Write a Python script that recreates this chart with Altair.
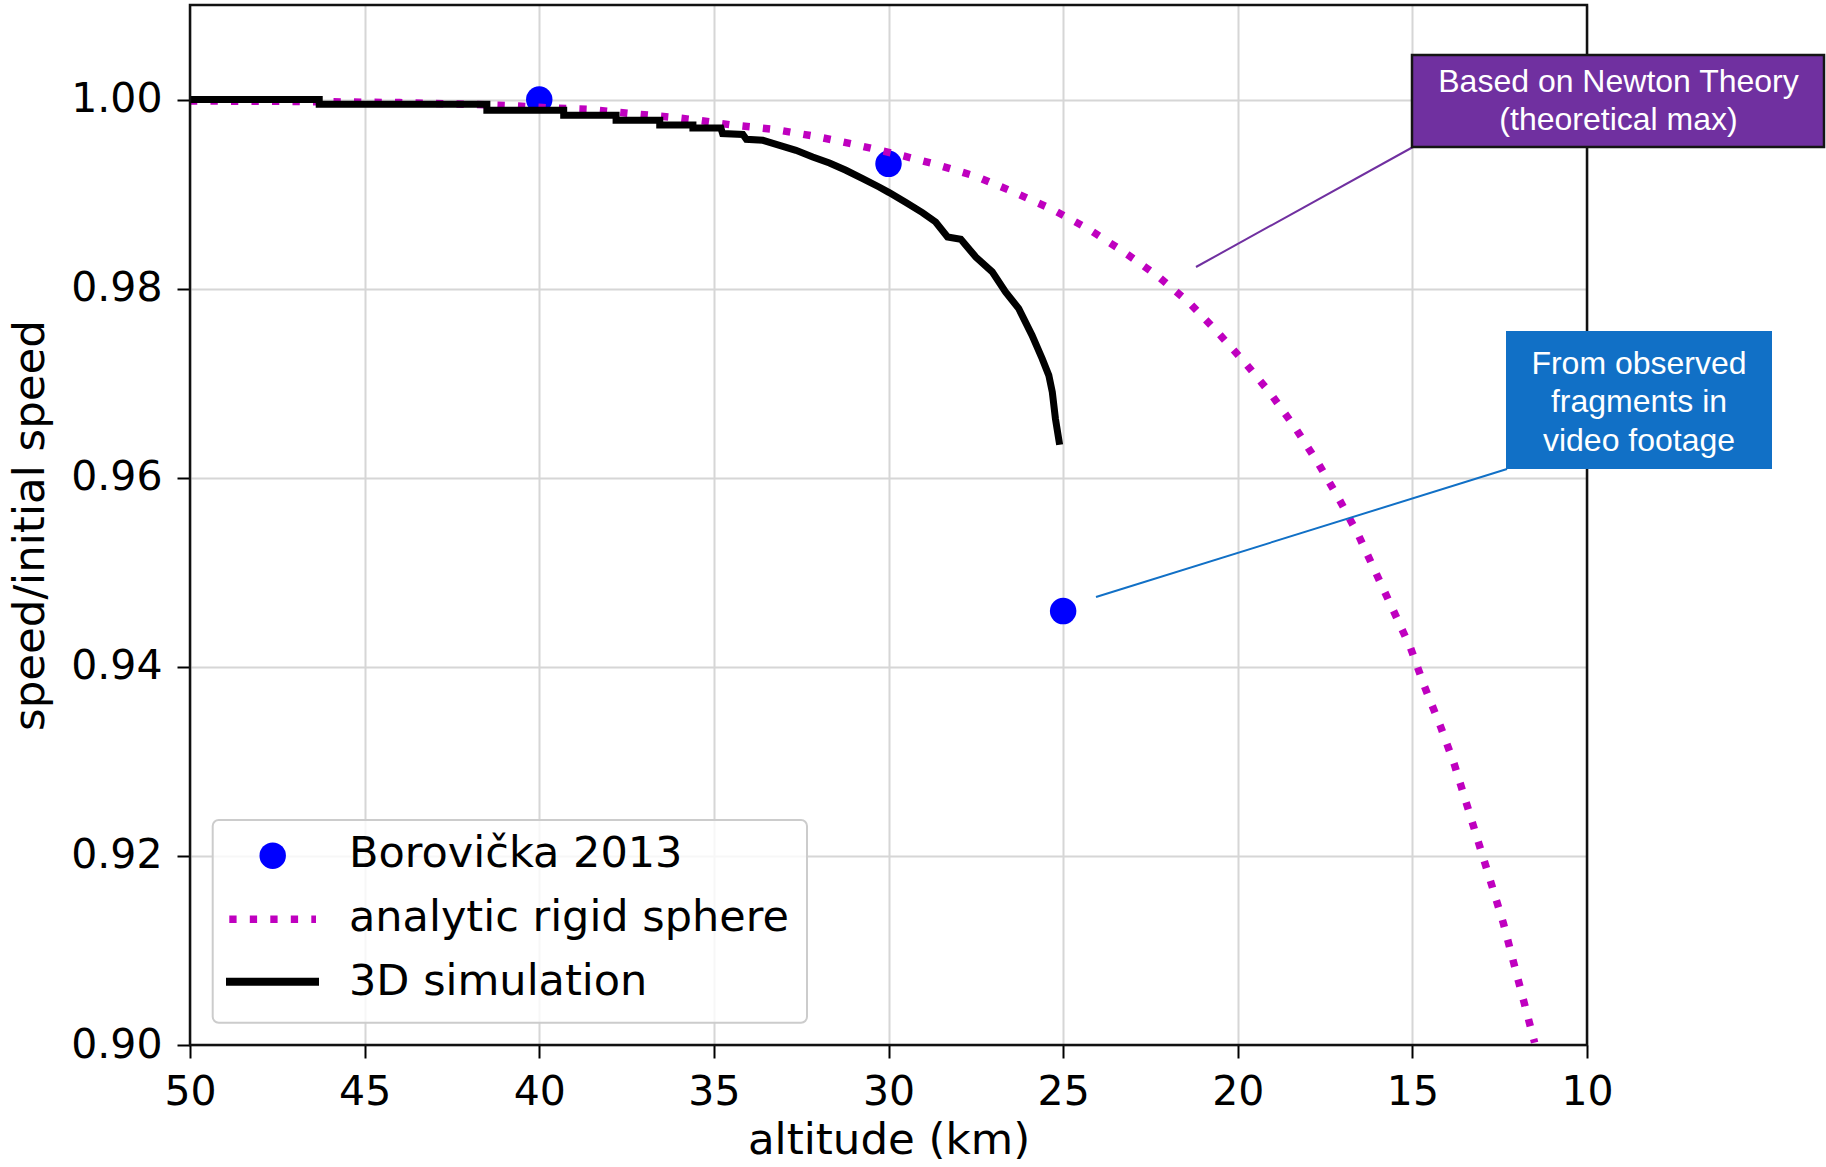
import altair as alt
import pandas as pd

# --- data -------------------------------------------------------------
# Borovička 2013 observed speed ratios
obs_altitude = [40.0, 30.0, 25.0]
obs_ratio = [1.0000, 0.9932, 0.9459]

# analytic rigid sphere (Newtonian drag)
sphere_altitude = [50.0, 47.0, 44.0, 42.0, 40.9, 39.6, 38.6, 38.0, 37.4, 36.8,
                   36.2, 35.6, 34.5, 33.3, 32.1, 31.0, 29.8, 28.65, 27.5, 26.4,
                   25.3, 24.3, 23.3, 22.3, 21.4, 20.6, 19.8, 19.05, 18.35, 17.7,
                   17.1, 16.55, 16.05, 15.55, 15.05, 14.65, 14.2, 13.8, 13.45, 13.1,
                   12.75, 12.4, 12.1, 11.8, 11.5]
sphere_ratio = [0.99985, 0.9998, 0.99968, 0.9995, 0.99937, 0.9991, 0.99896, 0.99875, 0.99852, 0.99833,
                0.99813, 0.99788, 0.99732, 0.99686, 0.99611, 0.99527, 0.99425, 0.99315, 0.99188, 0.99019,
                0.98836, 0.98636, 0.98399, 0.98135, 0.97855, 0.97548, 0.97220, 0.96886, 0.96526, 0.96155,
                0.95775, 0.95397, 0.94998, 0.94600, 0.94198, 0.93789, 0.93376, 0.92970, 0.92554, 0.92134,
                0.91718, 0.91295, 0.90871, 0.90448, 0.90025]

# 3D simulation (stepped output at high altitude)
sim_altitude = [50.0, 46.3, 46.3, 41.5, 41.5, 39.3, 39.3, 37.8, 37.8, 36.55,
                36.55, 35.6, 35.6, 34.8, 34.75, 34.17, 34.07, 33.6, 33.12, 32.65,
                32.17, 31.69, 31.22, 30.74, 30.27, 29.98, 29.5, 29.03, 28.65, 28.31,
                27.93, 27.5, 27.03, 26.65, 26.27, 25.89, 25.6, 25.41, 25.31, 25.22, 25.1]
sim_ratio = [1.0, 1.0, 0.9995, 0.9995, 0.99887, 0.99887, 0.99834, 0.99834, 0.99781, 0.99781,
             0.99732, 0.99732, 0.99700, 0.99700, 0.99640, 0.99630, 0.99580, 0.99569, 0.99516, 0.99463,
             0.99393, 0.99329, 0.99252, 0.99164, 0.99075, 0.99016, 0.98910, 0.98804, 0.98705, 0.98546,
             0.98522, 0.98334, 0.98177, 0.97964, 0.97788, 0.97506, 0.97259, 0.97083, 0.96906, 0.96624,
             0.96349]

x_ticks = [50, 45, 40, 35, 30, 25, 20, 15, 10]
y_ticks = [0.90, 0.92, 0.94, 0.96, 0.98, 1.00]

legend_labels = ["Borovička 2013", "analytic rigid sphere", "3D simulation"]
newton_note = ["Based on Newton Theory", "(theoretical max)"]
video_note = ["From observed", "fragments in", "video footage"]

obs_df = pd.DataFrame({"altitude": obs_altitude, "ratio": obs_ratio})
sphere_df = pd.DataFrame({"altitude": sphere_altitude, "ratio": sphere_ratio,
                          "i": range(len(sphere_altitude))})
sim_df = pd.DataFrame({"altitude": sim_altitude, "ratio": sim_ratio,
                       "i": range(len(sim_altitude))})
one = pd.DataFrame({"k": [0]})

# --- layout -----------------------------------------------------------
W, H = 1397, 1040
MAGENTA = "#bf00bf"
BLUE_DOT = "#0000ff"
NOTE_PURPLE = "#7030a0"
NOTE_BLUE = "#1170c6"
DEJAVU = "DejaVu Sans"
ARIAL = "Liberation Sans"

x_scale = alt.Scale(domain=[10, 50], reverse=True, nice=False, zero=False)
y_scale = alt.Scale(domain=[0.90, 1.01], nice=False, zero=False)

x_axis = alt.Axis(values=x_ticks, format="d", title="altitude (km)",
                  labelPadding=14, labelFlush=False, labelOverlap=False,
                  titleX=W / 2, titleY=108, titleAlign="center",
                  titleBaseline="alphabetic")
y_axis = alt.Axis(values=y_ticks, format=".2f", title="speed/initial speed",
                  labelPadding=15, labelFlush=False, labelOverlap=False,
                  titleX=-160, titleY=H / 2, titleAngle=270,
                  titleAlign="center", titleBaseline="middle")


def xy():
    return dict(x=alt.X("altitude:Q", scale=x_scale, axis=x_axis),
                y=alt.Y("ratio:Q", scale=y_scale, axis=y_axis))


observed = alt.Chart(obs_df).mark_circle(
    color=BLUE_DOT, size=700, opacity=1
).encode(**xy())

sphere = alt.Chart(sphere_df).mark_line(
    color=MAGENTA, strokeWidth=7.5, strokeDash=[7.3, 13.2], strokeCap="butt", clip=True
).encode(order=alt.Order("i:Q"), **xy())

simulation = alt.Chart(sim_df).mark_line(
    color="black", strokeWidth=7, strokeJoin="miter", clip=True
).encode(order=alt.Order("i:Q"), **xy())

# plot frame
frame = alt.Chart(one).mark_rect(
    fill="white", fillOpacity=0, stroke="#111111", strokeWidth=2.5
).encode(x=alt.value(0), x2=alt.value(W), y=alt.value(0), y2=alt.value(H))

# legend
legend_box = alt.Chart(one).mark_rect(
    fill="white", fillOpacity=0.8, stroke="#cccccc", strokeWidth=2, cornerRadius=6
).encode(x=alt.value(22.7), x2=alt.value(617), y=alt.value(815), y2=alt.value(1017.7))

legend_dot = alt.Chart(one).mark_circle(color=BLUE_DOT, size=700, opacity=1).encode(
    x=alt.value(82.7), y=alt.value(850.7))

legend_dotted = alt.Chart(one).mark_rule(
    color=MAGENTA, strokeWidth=7.5, strokeDash=[7.3, 13.2], strokeCap="butt"
).encode(x=alt.value(39.3), x2=alt.value(126), y=alt.value(914.3))

legend_solid = alt.Chart(one).mark_rule(color="black", strokeWidth=8).encode(
    x=alt.value(36), x2=alt.value(129), y=alt.value(976.7))

legend_text = alt.Chart(one).mark_text(
    font=DEJAVU, fontSize=43, color="black", align="left", baseline="alphabetic",
    lineBreak="\n", lineHeight=64.2
).encode(x=alt.value(159), y=alt.value(861.7), text=alt.value("\n".join(legend_labels)))

# callout: Newton theory
newton_line = alt.Chart(one).mark_rule(color=NOTE_PURPLE, strokeWidth=2).encode(
    x=alt.value(1223), y=alt.value(142), x2=alt.value(1006), y2=alt.value(262))
newton_box = alt.Chart(one).mark_rect(
    fill=NOTE_PURPLE, stroke="#151515", strokeWidth=2.5
).encode(x=alt.value(1222), x2=alt.value(1634), y=alt.value(50), y2=alt.value(142))
newton_text = alt.Chart(one).mark_text(
    font=ARIAL, fontSize=32, color="white", align="center", baseline="alphabetic",
    lineBreak="\n", lineHeight=38.3
).encode(x=alt.value(1428.5), y=alt.value(86.7), text=alt.value("\n".join(newton_note)))

# callout: observed fragments
video_line = alt.Chart(one).mark_rule(color=NOTE_BLUE, strokeWidth=2).encode(
    x=alt.value(1317), y=alt.value(464), x2=alt.value(906), y2=alt.value(592))
video_box = alt.Chart(one).mark_rect(fill=NOTE_BLUE).encode(
    x=alt.value(1316), x2=alt.value(1582), y=alt.value(326), y2=alt.value(464))
video_text = alt.Chart(one).mark_text(
    font=ARIAL, fontSize=32, color="white", align="center", baseline="alphabetic",
    lineBreak="\n", lineHeight=38.2
).encode(x=alt.value(1449), y=alt.value(369.3), text=alt.value("\n".join(video_note)))

chart = alt.layer(
    observed, sphere, simulation, frame,
    legend_box, legend_dot, legend_dotted, legend_solid, legend_text,
    newton_line, newton_box, newton_text,
    video_line, video_box, video_text,
).properties(
    width=W, height=H,
    autosize=alt.AutoSizeParams(type="none"),
    padding={"left": 190, "top": 5, "right": 239, "bottom": 122},
    background="white",
).configure_view(
    strokeWidth=0
).configure_axis(
    domain=False,
    grid=True, gridColor="#d6d6d6", gridWidth=2,
    ticks=True, tickColor="black", tickWidth=2, tickSize=13,
    labelFont=DEJAVU, labelFontSize=41, labelColor="black",
    titleFont=DEJAVU, titleFontSize=43.5, titleFontWeight="normal", titleColor="black",
    zindex=0,
)

chart.save("out.html", embed_options={"renderer": "svg", "actions": False})
